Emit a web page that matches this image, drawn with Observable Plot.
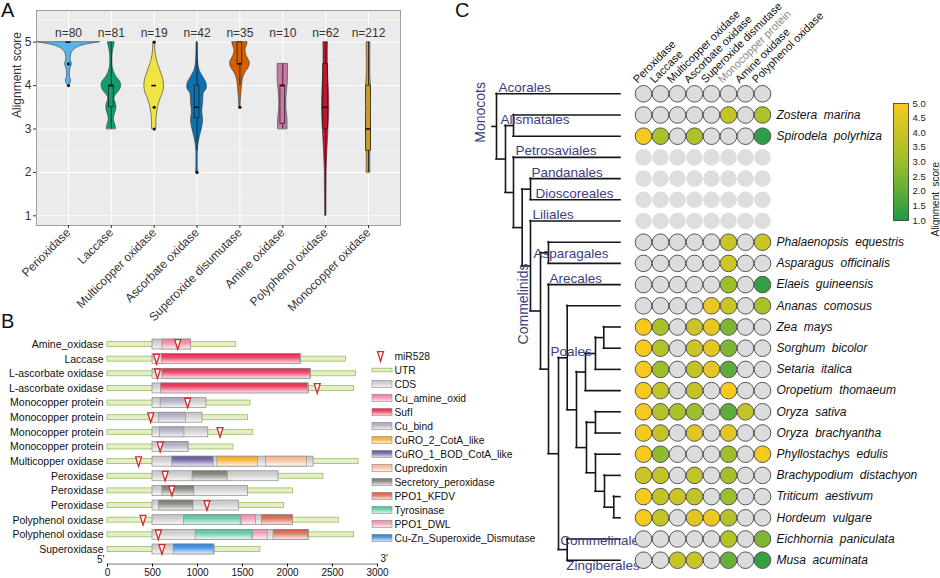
<!DOCTYPE html>
<html><head><meta charset="utf-8">
<script src="https://cdn.jsdelivr.net/npm/d3@7"></script>
<script src="https://cdn.jsdelivr.net/npm/@observablehq/plot@0.6"></script>
<style>
html,body{margin:0;padding:0;background:#fff;}
#root{position:relative;width:940px;height:578px;overflow:hidden;font-family:"Liberation Sans",Arial,sans-serif;background:#fff;}
.panel{position:absolute;}
.tag{position:absolute;font-size:20px;line-height:20px;color:#111;}
</style></head>
<body><div id="root"></div>
<script>
// ================= Panel A data =================
const aCategories = ["Perioxidase","Laccase","Multicopper oxidase","Ascorbate oxidase","Superoxide disumutase","Amine oxidase","Polyphenol oxidase","Monocopper oxidase"];
const aCounts = [80,81,19,42,35,10,62,212];
const aColors = ["#56b4e9","#0f9e73","#f0e442","#0a72b2","#d55e00","#cc79a7","#c2162e","#d09b1e"];
const aYTicks = [1,2,3,4,5];
const aYMinor = [1.5,2.5,3.5,4.5,5.5];
// violin outlines: [score, half-width in category units]
const violinPerioxidase = [[4.0,0.015],[4.06,0.05],[4.12,0.06],[4.2,0.035],[4.3,0.03],[4.4,0.05],[4.5,0.08],[4.6,0.05],[4.7,0.06],[4.8,0.11],[4.87,0.2],[4.93,0.35],[4.97,0.55],[5.0,0.74]];
const violinLaccase = [[3.0,0.11],[3.1,0.09],[3.2,0.06],[3.3,0.07],[3.4,0.1],[3.5,0.12],[3.6,0.1],[3.7,0.07],[3.8,0.12],[3.9,0.2],[4.0,0.23],[4.1,0.2],[4.2,0.12],[4.35,0.05],[4.5,0.025],[4.65,0.025],[4.8,0.04],[4.9,0.06],[5.0,0.08]];
const violinMulticopper = [[3.0,0.05],[3.15,0.05],[3.3,0.06],[3.5,0.09],[3.7,0.15],[3.85,0.21],[4.0,0.23],[4.15,0.21],[4.3,0.16],[4.5,0.09],[4.7,0.04],[4.85,0.025],[5.0,0.02]];
const violinAscorbate = [[2.0,0.02],[2.2,0.015],[2.4,0.015],[2.6,0.025],[2.8,0.06],[3.0,0.11],[3.2,0.14],[3.4,0.12],[3.6,0.14],[3.8,0.15],[3.95,0.23],[4.05,0.22],[4.2,0.14],[4.35,0.06],[4.5,0.03],[4.75,0.015],[5.0,0.012]];
const violinSOD = [[3.5,0.015],[3.65,0.02],[3.8,0.03],[4.0,0.05],[4.15,0.07],[4.3,0.13],[4.42,0.21],[4.52,0.23],[4.62,0.19],[4.72,0.14],[4.82,0.13],[4.92,0.16],[5.0,0.18]];
const violinAmine = [[3.0,0.11],[3.2,0.11],[3.4,0.09],[3.6,0.08],[3.8,0.09],[4.0,0.11],[4.2,0.12],[4.35,0.12],[4.5,0.12]];
const violinPolyphenol = [[1.0,0.012],[1.5,0.015],[2.0,0.02],[2.5,0.04],[3.0,0.065],[3.5,0.085],[4.0,0.07],[4.5,0.05],[4.8,0.05],[5.0,0.055]];
const violinMonocopper = [[2.0,0.045],[2.3,0.04],[2.5,0.045],[2.8,0.055],[3.0,0.06],[3.3,0.045],[3.5,0.04],[3.8,0.05],[4.0,0.055],[4.3,0.04],[4.6,0.04],[5.0,0.045]];
const violins = [violinPerioxidase,violinLaccase,violinMulticopper,violinAscorbate,violinSOD,violinAmine,violinPolyphenol,violinMonocopper];
const boxQ1 = [5,3.5,4,3.25,4.5,3.12,3,2.5];
const boxMedian = [5,4,4,3.5,4.5,4,3.5,3];
const boxQ3 = [5,4,4,4,5,4,4.5,4];
const whiskerLow = [5,3,4,2.5,4,3,1,2];
const whiskerHigh = [5,5,4,5,5,4.5,5,5];
const outliers = [[4.5,4],[],[5,3.5,3],[2],[3.5],[],[],[]];

// ================= Panel B data =================
const geneNames = ["Amine_oxidase","Laccase","L-ascorbate oxidase","L-ascorbate oxidase","Monocopper protein","Monocopper protein","Monocopper protein","Monocopper protein","Multicopper oxidase","Peroxidase","Peroxidase","Peroxidase","Polyphenol oxidase","Polyphenol oxidase","Superoxidase"];
const geneLength = [1430,2650,2760,2740,1590,1560,1620,1400,2790,2400,2060,1960,2570,2740,1700];
const cdsStart = [500,500,500,500,500,500,500,500,500,500,500,500,500,500,500];
const cdsEnd = [930,2150,2260,2240,1100,1055,1120,900,2290,1900,1560,1460,2060,2240,1190];
const mirSite = [780,545,555,2330,890,480,1250,585,345,640,715,1105,395,565,605];
const domainRow = [0,1,2,3,4,5,6,7,8,8,8,9,10,11,12,12,12,13,13,13,14];
const domainName = ["Cu_amine_oxid","SufI","SufI","SufI","Cu_bind","Cu_bind","Cu_bind","Cu_bind","CuRO_1_BOD_CotA_like","CuRO_2_CotA_like","Cupredoxin","Secretory_peroxidase","Secretory_peroxidase","Secretory_peroxidase","Tyrosinase","PPO1_DWL","PPO1_KFDV","Tyrosinase","PPO1_DWL","PPO1_KFDV","Cu-Zn_Superoxide_Dismutase"];
const domainStart = [610,605,610,595,590,575,585,590,720,1220,1760,945,610,570,850,1490,1715,980,1620,1845,735];
const domainEnd = [930,2145,2255,2225,900,870,855,900,1180,1670,2215,1335,965,955,1480,1650,2060,1605,1780,2235,1185];
const bXTicks = [0,500,1000,1500,2000,2500,3000];
const legendItems = ["miR528","UTR","CDS","Cu_amine_oxid","SufI","Cu_bind","CuRO_2_CotA_like","CuRO_1_BOD_CotA_like","Cupredoxin","Secretory_peroxidase","PPO1_KFDV","Tyrosinase","PPO1_DWL","Cu-Zn_Superoxide_Dismutase"];
const featureNames = ["CDS","Cu_amine_oxid","SufI","Cu_bind","CuRO_2_CotA_like","CuRO_1_BOD_CotA_like","Cupredoxin","Secretory_peroxidase","PPO1_KFDV","Tyrosinase","PPO1_DWL","Cu-Zn_Superoxide_Dismutase"];
const featureColors = ["#c6c6c6","#f27b9b","#e3264c","#a7a6ba","#f4a81d","#5f5296","#f6b48e","#77786a","#d65a40","#4fc39b","#ef8fb0","#2d7fd8"];

// ================= Panel C data =================
const newick = "(Acorales:124,((Zostera_marina:107,Spirodela_polyrhiza:107)Alismatales:8,(Petrosaviales:107,((Pandanales:90,Dioscoreales:90):8.3,(Liliales:90,((Phalaenopsis_equestris:72,Asparagus_officinalis:72)Asparagales:8,(Elaeis_guineensis:72,((Ananas_comosus:53.3,((((Zea_mays:16.7,Sorghum_bicolor:16.7):8.3,Setaria_italica:25):10,Oropetium_thomaeum:35):9,((Oryza_sativa:25,Oryza_brachyantha:25):9,(Phyllostachys_edulis:25,(Brachypodium_distachyon:16,(Triticum_aestivum:6.7,Hordeum_vulgare:6.7):9.3):9):9):10):9.3)Poales:8.7,(Eichhornia_paniculata:53.3,Musa_acuminata:53.3)CZ:8.7):10):8)Commelinids:10):8.3):8.7):8):9)Monocots:4;";
const enzymeCols = ["Peroxidase","Laccase","Multicopper oxidase","Ascorbate oxidase","Superoxide dismutase","Monocopper protein","Amine oxidase","Polyphenol oxidase"];
const noGenomeRows = ["Petrosaviales","Pandanales","Dioscoreales","Liliales"];
const dotRows = ["Acorales","Zostera_marina","Spirodela_polyrhiza","Petrosaviales","Pandanales","Dioscoreales","Liliales","Phalaenopsis_equestris","Asparagus_officinalis","Elaeis_guineensis","Ananas_comosus","Zea_mays","Sorghum_bicolor","Setaria_italica","Oropetium_thomaeum","Oryza_sativa","Oryza_brachyantha","Phyllostachys_edulis","Brachypodium_distachyon","Triticum_aestivum","Hordeum_vulgare","Eichhornia_paniculata","Musa_acuminata"];
const N = null;
const dotScores = [
  [N,N,N,N,N,N,N,N],
  [N,N,N,N,N,3.9,N,3.4],
  [5,3.3,N,3.4,N,N,N,1.2],
  [N,N,N,N,N,N,N,N],
  [N,N,N,N,N,N,N,N],
  [N,N,N,N,N,N,N,N],
  [N,N,N,N,N,N,N,N],
  [N,N,N,N,N,4,N,4],
  [N,N,N,N,N,4.1,N,N],
  [N,N,N,N,N,3,N,1.3],
  [N,N,N,N,4.7,4,N,3.3],
  [5,3.3,N,4,4.6,2.5,N,N],
  [5,3.5,N,4,4.6,2.5,N,N],
  [5,3,N,3.8,4.6,2,N,N],
  [5,3.8,N,3.8,N,5,N,N],
  [5,3.5,3.3,3,N,2,3.8,N],
  [5,3.8,N,4.5,N,4.5,N,N],
  [5,2.8,N,N,N,3,N,5],
  [4,3.8,N,3.8,N,3.2,N,N],
  [5,3.8,4,3.8,N,3,N,N],
  [5,3.8,N,4.5,4.8,3.5,N,N],
  [N,N,N,N,N,3.5,N,2.5],
  [N,N,4,4,N,2.2,N,1.3]
];
const barTicks = [1,1.5,2,2.5,3,3.5,4,4.5,5];

// ================= helpers =================
const root = document.getElementById("root");
function place(el, left, top, w, h) {
  const d = document.createElement("div");
  d.className = "panel";
  Object.assign(d.style, {left: left + "px", top: top + "px", width: w + "px", height: h + "px"});
  d.appendChild(el); root.appendChild(d);
}
function tag(t, left, top) {
  const d = document.createElement("div");
  d.className = "tag"; d.textContent = t;
  d.style.left = left + "px"; d.style.top = top + "px";
  root.appendChild(d);
}
const FONT = "'Liberation Sans', Arial, sans-serif";
const baseStyle = {background: "transparent", overflow: "visible", fontFamily: FONT, maxWidth: "none"};

// gradient defs shared by the page
const NS = "http://www.w3.org/2000/svg";
const defsSvg = document.createElementNS(NS, "svg");
defsSvg.setAttribute("width", 0); defsSvg.setAttribute("height", 0);
defsSvg.style.position = "absolute";
const defs = document.createElementNS(NS, "defs");
defsSvg.appendChild(defs);
const gid = name => "g-" + name.replace(/[^A-Za-z0-9_-]/g, "");
featureNames.forEach((name, i) => {
  const c = featureColors[i];
  const g = document.createElementNS(NS, "linearGradient");
  g.setAttribute("id", gid(name));
  g.setAttribute("x1", 0); g.setAttribute("y1", 0); g.setAttribute("x2", 0); g.setAttribute("y2", 1);
  [[0, 0], [0.4, 0.2], [1, 0.88]].forEach(([o, m]) => {
    const s = document.createElementNS(NS, "stop");
    s.setAttribute("offset", o);
    s.setAttribute("stop-color", d3.interpolateRgb(c, "#ffffff")(m));
    g.appendChild(s);
  });
  defs.appendChild(g);
});
document.body.appendChild(defsSvg);

const miRSymbol = {draw(ctx, size) {
  const s = Math.sqrt(size / Math.PI);
  ctx.moveTo(-0.62 * s, -s); ctx.lineTo(0.62 * s, -s); ctx.lineTo(0, s); ctx.closePath();
}};

// ================= Panel A =================
const aIndex = aCategories.map((d, i) => i + 1);
const violinPts = violins.flatMap((pts, k) => pts.map(([y, w]) => ({k: k + 1, y, w, color: aColors[k]})));
const boxes = aCategories.map((c, i) => ({k: i + 1, q1: boxQ1[i], med: boxMedian[i], q3: boxQ3[i], lo: whiskerLow[i], hi: whiskerHigh[i], color: aColors[i]}));
const outlierPts = outliers.flatMap((arr, i) => arr.map(y => ({k: i + 1, y})));
const BW = 0.055;

const plotA = Plot.plot({
  width: 410, height: 300, marginLeft: 36, marginRight: 10, marginTop: 10, marginBottom: 75,
  style: {...baseStyle, color: "#333"},
  x: {domain: [0.254, 8.746], axis: null},
  y: {domain: [0.777, 5.73], axis: null},
  color: {type: "identity"},
  marks: [
    Plot.frame({fill: "#ebebeb"}),
    Plot.gridY(aYMinor, {stroke: "#fff", strokeOpacity: 0.9, strokeWidth: 0.5}),
    Plot.gridY(aYTicks, {stroke: "#fff", strokeOpacity: 1, strokeWidth: 1}),
    Plot.gridX(aIndex, {stroke: "#fff", strokeOpacity: 1, strokeWidth: 1}),
    Plot.areaX(violinPts, {y: "y", x1: d => d.k - d.w, x2: d => d.k + d.w, z: "k", fill: "color", stroke: "#333", strokeWidth: 0.6, curve: "monotone-y"}),
    Plot.ruleX(boxes, {x: "k", y1: "lo", y2: "hi", stroke: "#222", strokeWidth: 0.9}),
    Plot.rect(boxes, {x1: d => d.k - BW, x2: d => d.k + BW, y1: "q1", y2: "q3", fill: "color", stroke: "#222", strokeWidth: 0.8}),
    Plot.ruleY(boxes, {y: "med", x1: d => d.k - BW, x2: d => d.k + BW, stroke: "#111", strokeWidth: 1.6}),
    Plot.dot(outlierPts, {x: "k", y: "y", r: 1.6, fill: "#111"}),
    Plot.frame({stroke: "#8a8a8a", strokeWidth: 0.8}),
    Plot.axisX(aIndex, {tickFormat: i => aCategories[i - 1], tickRotate: -45, tickSize: 3, tickPadding: 2, fontSize: 12, label: null}),
    Plot.axisY(aYTicks, {tickSize: 3, tickPadding: 2, fontSize: 12, label: null}),
    Plot.text(aCounts, {x: (d, i) => i + 1, text: d => "n=" + d, frameAnchor: "top", dy: 18, fontSize: 12}),
    Plot.text(["Alignment score"], {text: d => d, frameAnchor: "left", dx: -19, rotate: -90, fontSize: 12})
  ]
});
place(plotA, 0, 0, 410, 300);

// ================= Panel B =================
const geneIdx = geneNames.map((d, i) => i);
const domains = domainRow.map((r, i) => ({row: r, name: domainName[i], start: domainStart[i], end: domainEnd[i]}));
const axisRow = geneNames.length; // axis sits one row below the last gene
const UH = 0.17, CH = 0.34;
const plotB = Plot.plot({
  width: 540, height: 290, marginLeft: 107, marginRight: 163, marginTop: 44, marginBottom: 26.4,
  style: {...baseStyle, color: "#111"},
  x: {domain: [0, 3000], axis: null},
  y: {domain: [0, axisRow], range: [44, 263.6], axis: null},
  color: {type: "identity"},
  marks: [
    Plot.rect(geneIdx, {x1: 0, x2: i => geneLength[i], y1: i => i - UH, y2: i => i + UH, fill: "#e4efc4", stroke: "#98bd62", strokeWidth: 0.8}),
    Plot.rect(geneIdx, {x1: i => cdsStart[i], x2: i => cdsEnd[i], y1: i => i - CH, y2: i => i + CH, fill: "url(#g-CDS)", stroke: "#8a8a8a", strokeWidth: 0.7}),
    Plot.rect(domains, {x1: "start", x2: "end", y1: d => d.row - CH, y2: d => d.row + CH, fill: d => `url(#${gid(d.name)})`, stroke: "#8a8a8a", strokeWidth: 0.6}),
    Plot.dot(geneIdx, {x: i => mirSite[i], y: i => i, symbol: miRSymbol, r: 4.8, fill: "#fff", stroke: "#d42a2a", strokeWidth: 1.3}),
    Plot.ruleY([axisRow], {stroke: "#555", strokeWidth: 0.8}),
    Plot.axisX(bXTicks, {tickSize: 3, tickPadding: 2, fontSize: 10, tickFormat: d => String(d), label: null}),
    Plot.axisY(geneIdx, {tickFormat: i => geneNames[i], tickSize: 0, tickPadding: 4, fontSize: 10.5, label: null}),
    Plot.text(["5'"], {text: d => d, frameAnchor: "bottom-left", dx: -3, dy: -1, textAnchor: "end", fontSize: 10}),
    Plot.text(["3'"], {text: d => d, frameAnchor: "bottom-right", dx: 3, dy: -2, textAnchor: "start", fontSize: 10})
  ]
});
place(plotB, 0, 300, 540, 290);

const legendSwatches = legendItems.filter(d => featureNames.includes(d));
const plotBLegend = Plot.plot({
  width: 180, height: 215, marginLeft: 12, marginRight: 148, marginTop: 0, marginBottom: 0,
  style: {...baseStyle, color: "#111"},
  x: {domain: [0, 1], axis: null},
  y: {type: "band", domain: legendItems, range: [5.75, 208.25], padding: 0, axis: null},
  color: {type: "identity"},
  marks: [
    Plot.barX(legendSwatches, {x1: 0, x2: 1, y: d => d, insetTop: 3.3, insetBottom: 3.3, fill: d => `url(#${gid(d)})`, stroke: "#8a8a8a", strokeWidth: 0.6}),
    Plot.barX(["UTR"], {x1: 0, x2: 1, y: d => d, insetTop: 5.2, insetBottom: 5.2, fill: "#e4efc4", stroke: "#98bd62", strokeWidth: 0.8}),
    Plot.dot(["miR528"], {x: 0.4, y: d => d, symbol: miRSymbol, r: 4.8, fill: "#fff", stroke: "#d42a2a", strokeWidth: 1.3}),
    Plot.text(legendItems, {x: 1, y: d => d, text: d => d, dx: 2, textAnchor: "start", fontSize: 10.3})
  ]
});
place(plotBLegend, 360, 340, 180, 215);

// ================= Panel C: tree =================
function parseNewick(s) {
  let i = 0;
  function node() {
    const n = {children: [], length: 0};
    if (s[i] === "(") {
      i++;
      n.children.push(node());
      while (s[i] === ",") { i++; n.children.push(node()); }
      i++;
    }
    let name = "";
    while (i < s.length && !",():;".includes(s[i])) name += s[i++];
    n.name = name.trim();
    if (s[i] === ":") {
      i++; let num = "";
      while (i < s.length && !",();".includes(s[i])) num += s[i++];
      n.length = +num;
    }
    return n;
  }
  return node();
}
const tree = parseNewick(newick);
const nodes = [];
let leafCounter = 0;
(function walk(n, parent, depth) {
  n.parent = parent; n.depth = depth; nodes.push(n);
  if (n.children.length) {
    n.children.forEach(c => walk(c, n, depth + c.length));
    n.y = (n.children[0].y + n.children[n.children.length - 1].y) / 2;
  } else n.y = leafCounter++;
})(tree, null, 0);
const internal = nodes.filter(n => n.children.length);
const byName = new Map(nodes.filter(n => n.name).map(n => [n.name, n]));
const leaves = nodes.filter(n => !n.children.length);
const nRows = leaves.length;
const ROW0 = 93.3, ROWH = 21.2;
const yRange = [ROW0, ROW0 + (nRows - 1) * ROWH];

const treeLabels = [
  {text: "Acorales", node: "Acorales", ref: "parent", dx: 2, dy: -6.6},
  {text: "Alismatales", node: "Alismatales", ref: "parent", dx: -5, dy: -6.4},
  {text: "Petrosaviales", node: "Petrosaviales", ref: "parent", dx: 2, dy: -6.3},
  {text: "Pandanales", node: "Pandanales", ref: "parent", dx: 1, dy: -6.3},
  {text: "Dioscoreales", node: "Dioscoreales", ref: "parent", dx: 5, dy: -6.3},
  {text: "Liliales", node: "Liliales", ref: "parent", dx: 2, dy: -6.3},
  {text: "Asparagales", node: "Asparagales", ref: "parent", dx: -7, dy: 1},
  {text: "Arecales", node: "Elaeis_guineensis", ref: "parent", dx: 1, dy: -6.3},
  {text: "Poales", node: "Poales", ref: "parent", dx: -8, dy: -6.5},
  {text: "Commelinales", node: "Eichhornia_paniculata", ref: "parent", dx: -7, dy: 1.5},
  {text: "Zingiberales", node: "Musa_acuminata", ref: "parent", dx: -1, dy: 5.5},
  {text: "Commelinids", node: "Commelinids", ref: "self", dx: -16.5, dy: -7, rotate: -90},
  {text: "Monocots", node: "Monocots", ref: "self", dx: -16, dy: -14, rotate: -90}
];
const LABEL_COLOR = "#3d3d7e";
const treeMarks = [
  Plot.ruleX(internal, {x: "depth", y1: n => n.children[0].y, y2: n => n.children[n.children.length - 1].y, stroke: "#161616", strokeWidth: 1.6, strokeLinecap: "square"}),
  Plot.ruleY(nodes, {y: "y", x1: n => n.parent ? n.parent.depth : -n.length, x2: "depth", stroke: "#161616", strokeWidth: 1.6, strokeLinecap: "square"}),
  ...treeLabels.map(l => {
    const n = byName.get(l.node);
    const xr = l.ref === "parent" ? n.parent.depth : n.depth;
    return Plot.text([l], {x: () => xr, y: () => n.y, text: "text", dx: l.dx, dy: l.dy,
      rotate: l.rotate || 0, textAnchor: l.rotate ? "middle" : "start", fontSize: l.rotate ? 14 : 13.5, fill: LABEL_COLOR});
  })
];
const plotTree = Plot.plot({
  width: 200, height: 578, margin: 0,
  style: {...baseStyle},
  x: {domain: [0, 124], range: [46, 170], axis: null},
  y: {domain: [0, nRows - 1], range: yRange, axis: null},
  marks: treeMarks
});
place(plotTree, 450, 0, 200, 578);

// ================= Panel C: dots =================
const rowIndex = new Map(leaves.map((n, i) => [n.name, i]));
const cells = dotRows.flatMap((name, r) => enzymeCols.map((col, c) => ({
  row: rowIndex.get(name), col, score: dotScores[r][c], noGenome: noGenomeRows.includes(name)
})));
const speciesRows = dotRows.filter(n => n.includes("_"));
const colorScale = {type: "linear", domain: [1, 3, 5], range: ["#1f9a46", "#9dbf2c", "#f6c91f"]};
const R = 8.3;
const plotDots = Plot.plot({
  width: 340, height: 578, margin: 0,
  style: {...baseStyle, color: "#111"},
  x: {type: "point", domain: enzymeCols, range: [33.3, 171.9], axis: null},
  y: {domain: [0, nRows - 1], range: yRange, axis: null},
  color: colorScale,
  marks: [
    Plot.dot(cells.filter(d => d.noGenome), {x: "col", y: "row", r: R, fill: "#dedede"}),
    Plot.dot(cells.filter(d => !d.noGenome && d.score == null), {x: "col", y: "row", r: R, fill: "#dcdcdc", stroke: "#555", strokeWidth: 1}),
    Plot.dot(cells.filter(d => d.score != null), {x: "col", y: "row", r: R, fill: "score", stroke: "#555", strokeWidth: 1}),
    Plot.text(speciesRows, {x: () => enzymeCols[enzymeCols.length - 1], y: n => rowIndex.get(n), text: n => n.replace("_", "\u00a0 "), dx: 14, textAnchor: "start", fontStyle: "italic", fontSize: 12, fill: "#111"}),
    Plot.text(enzymeCols.filter(c => c !== "Monocopper protein"), {x: d => d, y: () => 0, text: d => d, dx: -6, dy: -10, rotate: -45, textAnchor: "start", lineAnchor: "bottom", fontSize: 11, fill: "#111"}),
    Plot.text(["Monocopper protein"], {x: d => d, y: () => 0, text: d => d, dx: -6, dy: -10, rotate: -45, textAnchor: "start", lineAnchor: "bottom", fontSize: 11, fill: "#8a8a8a"})
  ]
});
place(plotDots, 600, 0, 340, 578);

// ================= Panel C: colour bar =================
const plotBar = Plot.plot({
  width: 60, height: 145, marginLeft: 13, marginRight: 32, marginTop: 13, marginBottom: 15,
  style: {...baseStyle, color: "#222"},
  x: {domain: [0, 1], axis: null},
  y: {domain: [1, 5], axis: null},
  color: colorScale,
  marks: [
    Plot.raster({fill: (x, y) => y, x1: 0, x2: 1, y1: 1, y2: 5, width: 2, height: 120}),
    Plot.frame({stroke: "#333", strokeWidth: 0.8}),
    Plot.axisY(barTicks, {anchor: "right", tickSize: 0, tickPadding: 4, tickFormat: d3.format(".1f"), fontSize: 9.5, label: null}),
    Plot.text(["Alignment\u00a0 score"], {text: d => d, frameAnchor: "right", dx: 27, rotate: -90, fontSize: 10})
  ]
});
place(plotBar, 880, 90, 60, 145);

// panel tags
tag("A", 1, 0);
tag("B", 1, 311);
tag("C", 455, 0);
</script>
</body></html>
